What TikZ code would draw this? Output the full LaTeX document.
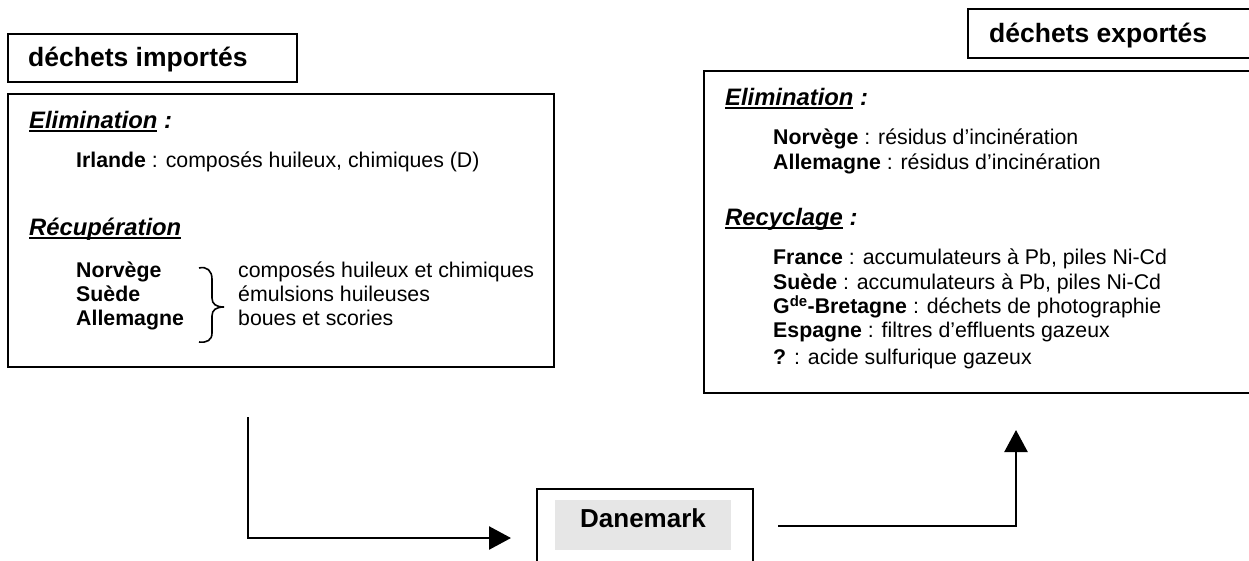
\documentclass[tikz,border=0pt]{standalone}
\usepackage{fontspec}
\setmainfont{Liberation Sans}
\usetikzlibrary{arrows.meta}
\definecolor{dangray}{HTML}{E6E6E6}
\newcommand\myul[1]{\setbox0\hbox{#1}\rlap{\rule[-3.6pt]{\wd0}{1.8pt}}\box0\relax}
\begin{document}
\begin{tikzpicture}[x=1pt,y=-1pt,
  frame/.style={draw, line width=2pt, inner sep=0pt, anchor=north west},
  txt/.style={anchor=base west, inner sep=0pt, font=\fontsize{21.3}{25}\selectfont},
  head/.style={anchor=base west, inner sep=0pt, font=\fontsize{23.8}{28}\selectfont\bfseries\itshape},
  ttl/.style={anchor=base west, inner sep=0pt, font=\fontsize{26.5}{30}\selectfont\bfseries},
  conn/.style={line width=2.5pt, -{Triangle[length=22pt,width=23pt]}},
]
\clip (0,0) rectangle (1249,560);
% left side
\node[frame, minimum width=289pt, minimum height=48pt] (tLbox) at (7,33) {};
\node[ttl] (tL) at (28,66.5) {déchets importés};
\node[frame, minimum width=546pt, minimum height=273pt] (Lbox) at (7,93) {};
\node[head] (hL1) at (29,128.5) {\myul{Elimination} :};
\node[txt] (l1) at (76,167.6) {\textbf{Irlande} : composés huileux, chimiques (D)};
\node[head] (hL2) at (29,235.5) {\myul{Récupération}};
\node[txt] (n1) at (76,277.6) {\textbf{Norvège}};
\node[txt] (n2) at (76,301.6) {\textbf{Suède}};
\node[txt] (n3) at (76,325.6) {\textbf{Allemagne}};
\draw[line width=1.6pt] (199,268) .. controls (207,266) and (212,271) .. (212,279)
  -- (212,298) .. controls (212,304) and (216,307) .. (224,307)
  .. controls (216,307) and (212,310) .. (212,316)
  -- (212,333) .. controls (212,340) and (207,343) .. (199,342);
\node[txt] (c1) at (238,277.6) {composés huileux et chimiques};
\node[txt] (c2) at (238,301.6) {émulsions huileuses};
\node[txt] (c3) at (238,325.6) {boues et scories};
% right side
\node[frame, minimum width=300pt, minimum height=49pt] (tRbox) at (967,8) {};
\node[ttl] (tR) at (989,42.5) {déchets exportés};
\node[frame, minimum width=570pt, minimum height=322pt] (Rbox) at (703,70) {};
\node[head] (hR1) at (725,105.2) {\myul{Elimination} :};
\node[txt] (r1) at (773,144.3) {\textbf{Norvège} : résidus d’incinération};
\node[txt] (r2) at (773,169.3) {\textbf{Allemagne} : résidus d’incinération};
\node[head] (hR2) at (725,225.2) {\myul{Recyclage} :};
\node[txt] (r3) at (773,264.3) {\textbf{France} : accumulateurs à Pb, piles Ni-Cd};
\node[txt] (r4) at (773,289.3) {\textbf{Suède} : accumulateurs à Pb, piles Ni-Cd};
\node[txt] (r5) at (773,313.6) {\textbf{G\textsuperscript{de}-Bretagne} : déchets de photographie};
\node[txt] (r6) at (773,337.6) {\textbf{Espagne} : filtres d’effluents gazeux};
\node[txt] (r7) at (773,364.3) {\textbf{?} : acide sulfurique gazeux};
% Danemark
\node[frame, minimum width=216pt, minimum height=120pt] (dan) at (536,488) {};
\node[fill=dangray, inner sep=0pt, anchor=north west, minimum width=176pt, minimum height=50pt] (dg) at (555,500) {};
\node[anchor=base, inner sep=0pt, font=\fontsize{26}{30}\selectfont\bfseries] (dt) at (643,527.4) {Danemark};
% connectors
\coordinate (s1) at (248,417);
\coordinate (t1) at (1016,430);
\draw[conn, shorten >=25pt] (s1) |- ([yshift=11pt]dan.west);
\draw[conn, shorten <=24pt] ([yshift=23pt]dan.east) -| (t1);
\end{tikzpicture}
\end{document}
